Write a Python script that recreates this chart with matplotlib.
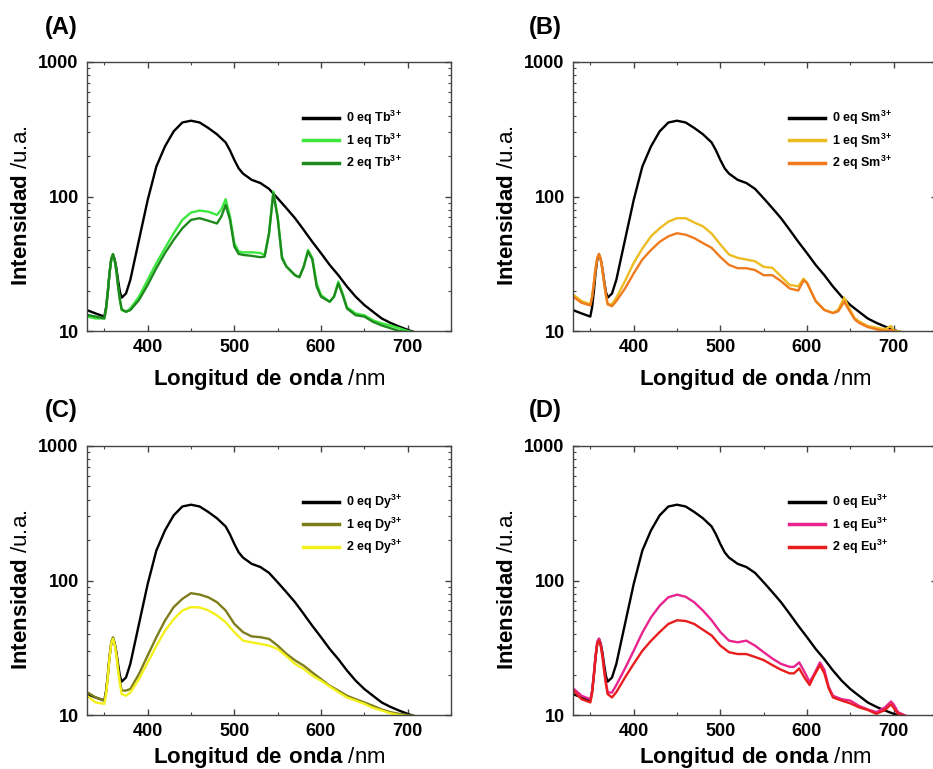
import matplotlib
matplotlib.use("Agg")
import matplotlib.pyplot as plt
from matplotlib.ticker import LogLocator, MultipleLocator, NullFormatter, FixedLocator

plt.rcParams['font.family'] = ['Liberation Sans', 'DejaVu Sans']
plt.rcParams['mathtext.fontset'] = 'custom'
plt.rcParams['mathtext.rm'] = 'Liberation Sans'
plt.rcParams['mathtext.bf'] = 'Liberation Sans:bold'

# ---- data ----
ref_wl = [330, 340, 350, 352, 354, 356, 358, 360, 362, 364, 366, 368, 370, 375, 380, 390, 400, 410, 420, 430,
          440, 450, 460, 470, 480, 490, 495, 500, 505, 510, 520, 530, 540, 550, 560, 570, 580, 590, 600, 610,
          620, 630, 640, 650, 660, 670, 680, 690, 700, 710]
ref0 = [14.3, 13.5, 12.8, 15, 19.5, 27, 34, 36.8, 34, 29, 23.5, 19.5, 17.7, 19, 24, 47.6, 94, 167, 236, 305,
        355, 366, 355, 323, 290, 252, 220, 187, 162, 148, 133, 126, 114, 97, 82, 69, 56.5, 46, 37.9, 31,
        26, 21.4, 18, 15.6, 13.9, 12.4, 11.5, 10.8, 10.2, 9.7]

tb_wl = [330, 340, 350, 352, 354, 356, 358, 360, 362, 364, 366, 368, 370, 375, 380, 390, 400, 410, 420, 430,
         440, 450, 460, 470, 480, 485, 490, 495, 500, 505, 510, 520, 530, 535, 540, 545, 550, 555, 560, 570,
         575, 580, 585, 590, 595, 600, 610, 615, 620, 625, 630, 640, 650, 660, 670, 680, 690, 700, 710]
tb1 = [12.8, 12.4, 12.4, 14.5, 19.5, 27, 34.5, 36.8, 33, 27.5, 21, 17, 14.3, 13.9, 14.7, 18, 24, 31.9, 41.3, 53.3,
       67, 76, 78.6, 77, 73, 80, 95.5, 71, 45, 39, 38.4, 38.5, 38, 36.8, 53, 109, 71, 35.7, 30.2, 26,
       25.1, 30, 40, 35, 22.6, 18.5, 16.5, 18, 23.3, 19, 15, 13.5, 13.1, 12, 11.4, 11, 10.5, 10, 9.7]
tb2 = [13.2, 12.8, 12.4, 14.5, 19.5, 27, 34.5, 37.4, 33.5, 27.5, 21, 17, 14.5, 13.9, 14.3, 17, 22, 29.3, 38, 47.6,
       58, 67, 69, 66, 63, 71, 86.5, 67, 42.5, 37.4, 36.8, 36.2, 35.4, 35.7, 53, 106, 69, 34.7, 30.2, 26,
       25.1, 30, 39, 34, 21.4, 18, 16.5, 18, 22.6, 18.5, 14.7, 13.1, 12.8, 11.7, 11, 10.5, 10, 9.8, 9.6]

sm_wl = [330, 340, 350, 352, 354, 356, 358, 360, 362, 364, 366, 368, 370, 375, 380, 390, 400, 410, 420, 430,
         440, 450, 460, 470, 480, 490, 500, 510, 520, 530, 540, 550, 560, 570, 580, 590, 596, 600, 610, 620,
         630, 636, 643, 648, 655, 660, 670, 680, 690, 697, 700, 710]
sm1 = [18.7, 16.7, 15.8, 18, 22.5, 29, 35, 37, 34, 28.5, 22.5, 18.5, 15.8, 15.8, 17.7, 23.5, 32, 41, 50.6, 58,
       65, 69, 69, 64, 60, 53, 44, 37, 35, 34, 33, 30, 29.5, 25.5, 22, 21.5, 24.5, 22.8, 16.7, 14.4,
       13.6, 14.4, 17.7, 15, 12.5, 11.8, 10.9, 10.6, 10.3, 10.9, 10.1, 9.8]
sm2 = [18, 16.2, 15.5, 17.7, 22.5, 29, 35, 37.5, 34.5, 28.5, 22.5, 18.5, 15.8, 15.3, 16.7, 20.7, 26.8, 34, 40, 46,
       50.6, 53.3, 52, 49, 45, 41.5, 35.5, 31, 29.3, 29.3, 28.4, 26, 26, 23.5, 20.7, 20, 23.8, 22.8, 16.7, 14.3,
       13.6, 14, 16.5, 14.5, 12.2, 11.5, 10.7, 10.3, 10, 10.2, 9.9, 9.7]

dy_wl = [330, 340, 350, 352, 354, 356, 358, 360, 362, 364, 366, 368, 370, 375, 380, 390, 400, 410, 420, 430,
         440, 450, 460, 470, 480, 490, 500, 510, 520, 530, 540, 550, 560, 570, 580, 590, 600, 610, 620, 630,
         640, 650, 660, 670, 680, 690, 700, 710]
dy1 = [14.8, 13.5, 12.8, 15, 20, 27.5, 35, 37.8, 34, 28.5, 22, 18, 15.2, 15.2, 15.6, 20.2, 27.7, 37.8, 50.4, 63.4,
       73, 80.5, 78.6, 75, 69, 59.8, 47.6, 41.3, 38.4, 37.9, 36.8, 32.8, 28.5, 25.5, 23.3, 20.7, 18.5, 16.5, 15.2, 13.9,
       13.1, 12.4, 11.7, 11, 10.5, 10.2, 10, 9.8]
dy2 = [13.9, 12.4, 12.1, 14.2, 19, 26.5, 34, 36.8, 33, 27.5, 21, 17, 14.3, 13.9, 14.7, 18.5, 24.6, 32.6, 42.3, 51.6,
       59.8, 63.4, 63, 60, 55, 49, 41.3, 35.7, 34.7, 33.8, 32.8, 31, 27.4, 24, 22, 19.6, 18, 16.3, 14.8, 13.5,
       12.8, 12.1, 11.3, 10.8, 10.3, 10, 9.8, 9.7]

eu_wl = [330, 340, 350, 352, 354, 356, 358, 360, 362, 364, 366, 368, 370, 375, 380, 390, 400, 410, 420, 430,
         440, 450, 460, 470, 480, 490, 500, 510, 520, 530, 540, 550, 560, 570, 580, 585, 591, 597, 603, 608,
         615, 620, 625, 630, 640, 650, 660, 670, 680, 690, 697, 700, 705, 715]
eu1 = [15.8, 13.9, 13.1, 15, 20, 27.5, 35, 37, 33.5, 28, 21.5, 17.5, 14.7, 14.7, 16.7, 22.2, 30, 41, 53.2, 64.9,
       75, 78.5, 75.7, 68.8, 59.7, 50.6, 41.4, 35.7, 34.7, 35.7, 32.8, 29.3, 26.3, 24, 22.8, 22.8, 24.6, 21, 17.6, 20,
       24.6, 21.7, 16.2, 13.9, 13.1, 12.8, 11.7, 11, 10.5, 11.4, 12.6, 12, 10.5, 9.8]
eu2 = [15.3, 13.1, 12.4, 14.4, 19.3, 26.5, 34, 35.6, 32.5, 27, 21, 17, 14.3, 13.5, 14.8, 19, 24, 30, 35.6, 41.4,
       47.5, 50.6, 50, 47.5, 43, 39, 32.8, 29.3, 28.4, 28.4, 27, 25.6, 23.5, 21.7, 20.4, 20.4, 22.2, 19, 16.7, 19.5,
       23.5, 20.4, 15.8, 13.5, 12.8, 12.2, 11.4, 10.9, 10.2, 10.9, 12, 11.3, 10.2, 9.8]

panels = [
    ("(A)", "Tb", tb_wl, tb1, tb2, "#3ce63c", "#1e8a1e"),
    ("(B)", "Sm", sm_wl, sm1, sm2, "#ecbc22", "#f07a1e"),
    ("(C)", "Dy", dy_wl, dy1, dy2, "#7d7d1c", "#f4f01c"),
    ("(D)", "Eu", eu_wl, eu1, eu2, "#e8248e", "#e81e1e"),
]

W, H = 933, 769
fig = plt.figure(figsize=(W / 100, H / 100), dpi=100)

# axes rectangles in pixels: left, top, width, height
rects = [(87, 62, 364, 269), (573, 62, 364, 269), (87, 446, 364, 269), (573, 446, 364, 269)]
label_xy = [(45, 16), (529, 16), (45, 399), (529, 399)]

sup = r"$^{\mathbf{3\!+}}$"

for i, (tag, ion, wl, y1, y2, c1, c2) in enumerate(panels):
    l, t, w, h = rects[i]
    ax = fig.add_axes([l / W, 1 - (t + h) / H, w / W, h / H])
    ax.plot(ref_wl, ref0, color="black", lw=1.7, label=f"0 eq {ion}" + sup)
    ax.plot(wl, y1, color=c1, lw=1.7, label=f"1 eq {ion}" + sup)
    ax.plot(wl, y2, color=c2, lw=1.7, label=f"2 eq {ion}" + sup)
    ax.set_yscale("log")
    ax.set_xlim(330, 750)
    ax.set_ylim(10, 1000)
    ax.xaxis.set_major_locator(FixedLocator([400, 500, 600, 700]))
    ax.xaxis.set_minor_locator(MultipleLocator(50))
    ax.yaxis.set_minor_locator(LogLocator(base=10, subs=range(2, 10), numticks=20))
    ax.yaxis.set_minor_formatter(NullFormatter())
    ax.set_yticks([10, 100, 1000])
    ax.set_yticklabels(["10", "100", "1000"])
    for s in ax.spines.values():
        s.set_color("#444444")
        s.set_linewidth(1.0)
    ax.tick_params(which="both", direction="in", top=True, right=True, colors="#444444")
    ax.tick_params(which="major", length=4, width=1.0)
    ax.tick_params(which="minor", length=2.5, width=0.8)
    ax.tick_params(axis="x", which="major", pad=6, labelsize=13, labelcolor="black")
    ax.tick_params(axis="y", which="major", pad=6, labelsize=13, labelcolor="black")
    for lab in ax.get_xticklabels() + ax.get_yticklabels():
        lab.set_fontweight("bold")
    ax.set_xlabel(r"$\mathbf{Longitud\ de\ onda}$ /nm", fontsize=16)
    ax.set_ylabel(r"$\mathbf{Intensidad}$ /u.a.", fontsize=16)
    ax.yaxis.set_label_coords(-0.15, 0.465)
    ax.xaxis.set_label_coords(0.5, -0.134 if i < 2 else -0.112)
    leg = ax.legend(loc="upper left", bbox_to_anchor=(0.593, 0.825), frameon=False,
                    prop={"weight": "bold", "size": 9}, handlelength=2.9, handletextpad=0.55,
                    labelspacing=0.35, borderpad=0, borderaxespad=0)
    for hnd in leg.legend_handles:
        hnd.set_linewidth(2.5)
    fig.text(label_xy[i][0] / W, 1 - label_xy[i][1] / H, tag, fontsize=17, fontweight="bold",
             ha="left", va="top")

fig.savefig("out.png", dpi=100)
